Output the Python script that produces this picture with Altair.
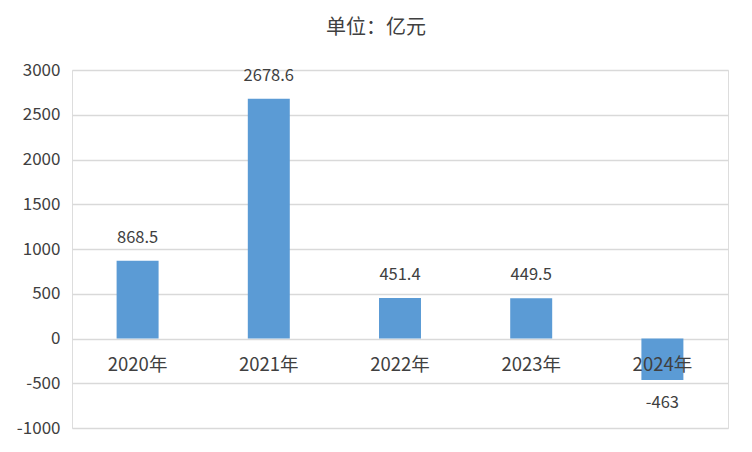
import altair as alt
import pandas as pd

years = ["2020年", "2021年", "2022年", "2023年", "2024年"]
values = [868.5, 2678.6, 451.4, 449.5, -463]
labels = ["868.5", "2678.6", "451.4", "449.5", "-463"]
y_ticks = [-1000, -500, 0, 500, 1000, 1500, 2000, 2500, 3000]
title_text = "单位：亿元"

df = pd.DataFrame({"year": years, "value": values, "label": labels})
FONT = "Noto Sans CJK SC"
TXT = "#404040"

x = alt.X("year:N", sort=years,
          scale=alt.Scale(paddingInner=0.68, paddingOuter=0.34), axis=None)
yscale = alt.Scale(domain=[-1000, 3000], nice=False)

base = alt.Chart(df)

bars = base.mark_bar(color="#5b9bd5").encode(
    x=x,
    y=alt.Y("value:Q", scale=yscale,
            axis=alt.Axis(values=y_ticks, title=None, domain=False, ticks=False,
                          labelExpr="'' + datum.value",
                          labelPadding=12, labelFontSize=17, labelColor=TXT,
                          labelFont=FONT, gridColor="#d9d9d9", gridWidth=1.5)),
)

pos_labels = base.transform_filter("datum.value >= 0").mark_text(
    baseline="middle", dy=-23, fontSize=16.5, font=FONT, color=TXT
).encode(x=x, y=alt.Y("value:Q", scale=yscale), text="label:N")

neg_labels = base.transform_filter("datum.value < 0").mark_text(
    baseline="middle", dy=23, fontSize=16.5, font=FONT, color=TXT
).encode(x=x, y=alt.Y("value:Q", scale=yscale), text="label:N")

cat_labels = base.transform_calculate(zero="0").mark_text(
    baseline="middle", dy=26, fontSize=18.5, font=FONT, color=TXT
).encode(x=x, y=alt.Y("zero:Q", scale=yscale), text="year:N")

title = alt.Chart(pd.DataFrame({"t": [title_text]})).mark_text(
    baseline="middle", align="center", fontSize=20, font=FONT, color=TXT
).encode(x=alt.value(304), y=alt.value(-42), text="t:N")

chart = alt.layer(bars, pos_labels, neg_labels, cat_labels, title).properties(
    width=656, height=358,
    autosize=alt.AutoSizeParams(type="none"),
    padding={"left": 64, "top": 62, "right": 16, "bottom": 16},
).configure_view(stroke=None).configure(background="white")

chart.save("out.html", embed_options={"renderer": "svg", "actions": False})
